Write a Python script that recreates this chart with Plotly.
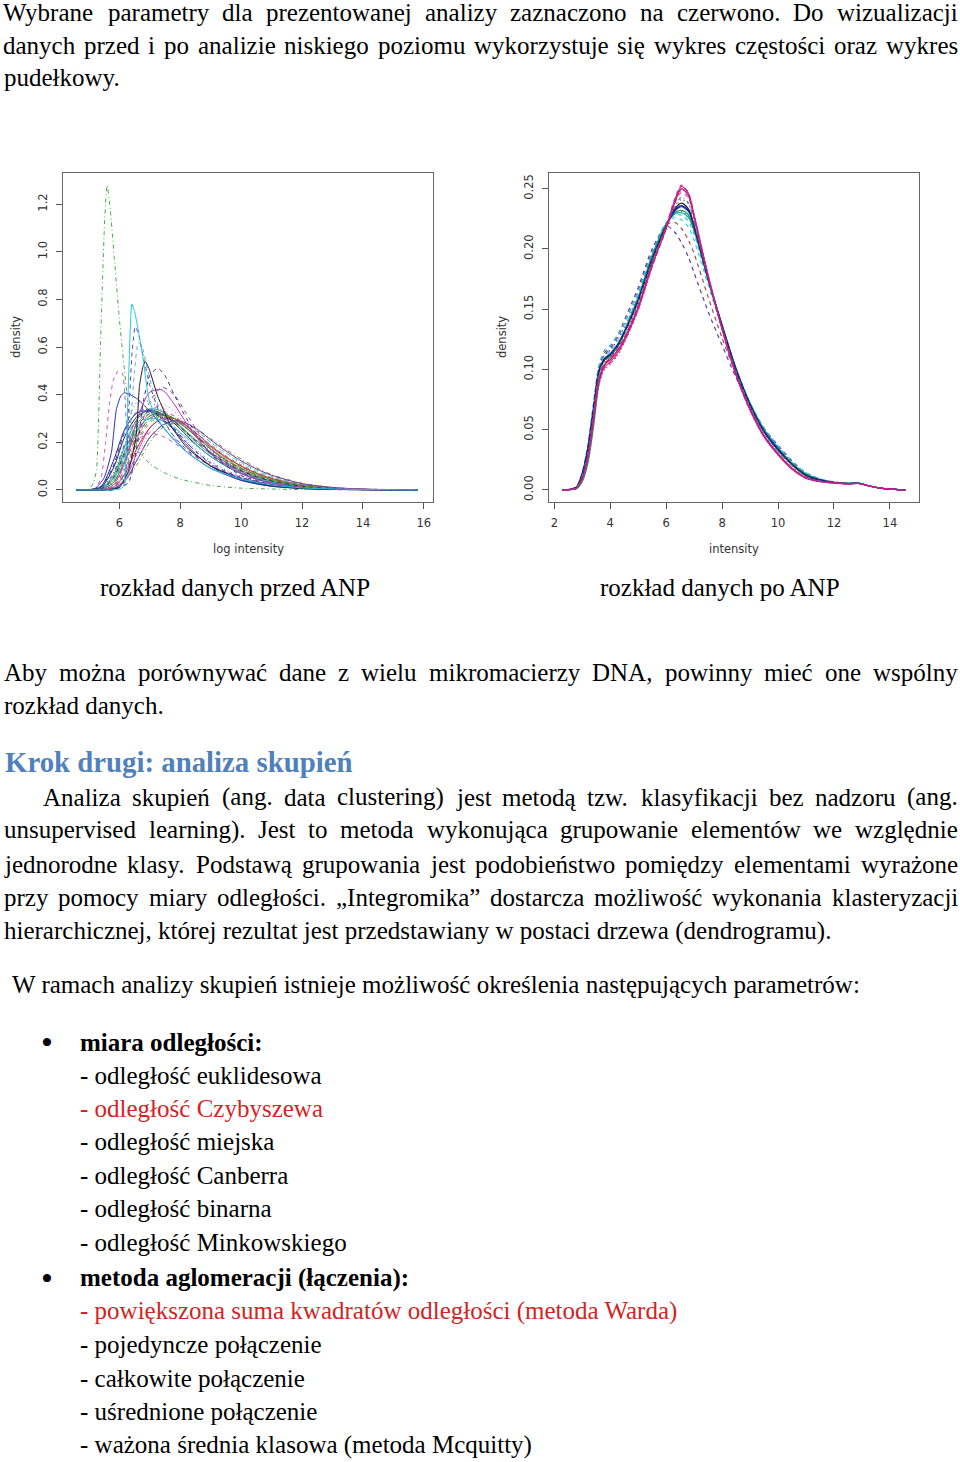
import plotly.graph_objects as go

W, H = 960, 1462

# ------------------------------------------------------------------
# DATA : density curves
# ------------------------------------------------------------------
# --- left panel ("przed ANP"), common grid for the bulk of the curves
pre_grid = [4.6, 5.0, 5.4, 5.8, 6.2, 6.6, 7.0, 7.4, 7.8, 8.2, 8.6, 9.0, 9.5, 10.0, 10.5, 11.0, 12.0, 13.0, 14.0, 15.8]
pre_black = [0, 0, 0.01, 0.09, 0.23, 0.31, 0.335, 0.32, 0.28, 0.23, 0.18, 0.14, 0.1, 0.068, 0.045, 0.03, 0.012, 0.004, 0.001, 0]
pre_red = [0, 0, 0.004, 0.04, 0.14, 0.25, 0.31, 0.33, 0.31, 0.27, 0.22, 0.17, 0.122, 0.086, 0.058, 0.038, 0.015, 0.005, 0.0015, 0]
pre_green = [0, 0, 0, 0.01, 0.06, 0.15, 0.24, 0.29, 0.3, 0.28, 0.245, 0.2, 0.152, 0.112, 0.078, 0.053, 0.022, 0.008, 0.002, 0]
pre_blue = [0, 0, 0.008, 0.07, 0.2, 0.3, 0.33, 0.31, 0.26, 0.2, 0.15, 0.108, 0.07, 0.045, 0.028, 0.017, 0.006, 0.002, 0.0005, 0]
pre_magenta = [0, 0, 0, 0.005, 0.05, 0.16, 0.26, 0.3, 0.29, 0.26, 0.22, 0.18, 0.135, 0.1, 0.07, 0.048, 0.02, 0.007, 0.002, 0]
pre_brown = [0, 0, 0.002, 0.03, 0.12, 0.23, 0.3, 0.315, 0.3, 0.26, 0.215, 0.17, 0.125, 0.09, 0.062, 0.042, 0.017, 0.006, 0.0015, 0]
pre_cyan2 = [0, 0, 0, 0.008, 0.05, 0.13, 0.22, 0.27, 0.285, 0.27, 0.24, 0.2, 0.155, 0.116, 0.082, 0.056, 0.024, 0.009, 0.0025, 0]
pre_navy = [0, 0, 0.015, 0.12, 0.26, 0.325, 0.33, 0.3, 0.25, 0.19, 0.14, 0.1, 0.065, 0.04, 0.025, 0.015, 0.005, 0.0015, 0.0004, 0]
pre_purple = [0, 0, 0, 0.02, 0.1, 0.22, 0.3, 0.32, 0.3, 0.26, 0.21, 0.165, 0.12, 0.085, 0.058, 0.039, 0.016, 0.006, 0.0015, 0]
pre_darkgreen = [0, 0, 0.003, 0.05, 0.17, 0.28, 0.33, 0.32, 0.29, 0.245, 0.2, 0.158, 0.116, 0.082, 0.056, 0.037, 0.015, 0.005, 0.0015, 0]
pre_pink = [0, 0, 0, 0.01, 0.08, 0.22, 0.33, 0.35, 0.26, 0.19, 0.14, 0.105, 0.075, 0.052, 0.035, 0.023, 0.009, 0.003, 0.001, 0]
pre_olive = [0, 0, 0, 0.004, 0.035, 0.11, 0.2, 0.26, 0.28, 0.275, 0.25, 0.215, 0.17, 0.13, 0.093, 0.064, 0.028, 0.01, 0.003, 0]
pre_teal = [0, 0, 0.005, 0.06, 0.19, 0.3, 0.34, 0.33, 0.29, 0.24, 0.19, 0.15, 0.108, 0.076, 0.052, 0.035, 0.014, 0.005, 0.0013, 0]
pre_gray = [0, 0, 0, 0.015, 0.09, 0.2, 0.28, 0.31, 0.3, 0.27, 0.23, 0.19, 0.143, 0.105, 0.074, 0.05, 0.021, 0.008, 0.002, 0]
pre_violet = [0, 0, 0.01, 0.1, 0.26, 0.37, 0.37, 0.33, 0.27, 0.21, 0.16, 0.12, 0.083, 0.057, 0.038, 0.025, 0.01, 0.003, 0.0008, 0]
pre_magenta_hi = [0, 0, 0, 0.02, 0.12, 0.3, 0.41, 0.42, 0.36, 0.28, 0.21, 0.155, 0.105, 0.07, 0.045, 0.028, 0.01, 0.003, 0.0008, 0]
pre_purple_hi = [0, 0, 0, 0.008, 0.07, 0.22, 0.37, 0.43, 0.4, 0.32, 0.24, 0.175, 0.115, 0.075, 0.048, 0.03, 0.011, 0.004, 0.001, 0]
pre_red2 = [0, 0, 0, 0.01, 0.07, 0.18, 0.26, 0.3, 0.3, 0.27, 0.23, 0.185, 0.138, 0.1, 0.07, 0.047, 0.019, 0.007, 0.002, 0]
pre_blue2 = [0, 0, 0.012, 0.1, 0.25, 0.33, 0.335, 0.305, 0.255, 0.2, 0.152, 0.113, 0.077, 0.052, 0.034, 0.022, 0.008, 0.003, 0.0007, 0]
pre_green3 = [0, 0, 0.002, 0.03, 0.13, 0.25, 0.31, 0.32, 0.3, 0.26, 0.215, 0.172, 0.127, 0.092, 0.064, 0.043, 0.018, 0.006, 0.0017, 0]
pre_magenta3 = [0, 0, 0, 0.01, 0.08, 0.22, 0.33, 0.36, 0.33, 0.27, 0.21, 0.16, 0.112, 0.077, 0.051, 0.033, 0.013, 0.004, 0.001, 0]
pre_cyan3 = [0, 0, 0.003, 0.04, 0.15, 0.26, 0.3, 0.29, 0.26, 0.22, 0.18, 0.14, 0.1, 0.07, 0.048, 0.032, 0.013, 0.005, 0.0012, 0]
pre_black3 = [0, 0, 0.004, 0.05, 0.16, 0.27, 0.32, 0.315, 0.285, 0.24, 0.195, 0.155, 0.113, 0.08, 0.055, 0.037, 0.015, 0.005, 0.0014, 0]
pre_purple3 = [0, 0, 0, 0.004, 0.04, 0.13, 0.22, 0.27, 0.29, 0.28, 0.25, 0.21, 0.163, 0.122, 0.088, 0.061, 0.026, 0.01, 0.003, 0]
pre_olive3 = [0, 0, 0, 0.015, 0.09, 0.21, 0.29, 0.31, 0.3, 0.265, 0.222, 0.18, 0.134, 0.097, 0.068, 0.046, 0.019, 0.007, 0.002, 0]

# --- left panel, curves with their own x positions
pre_greentall_x = [4.6, 5.0, 5.15, 5.25, 5.39, 5.52, 5.6, 5.7, 5.85, 6.0, 6.17, 6.35, 6.66, 7.0, 7.37, 8.0, 9.0, 10.0, 12.0, 15.8]
pre_greentall_y = [0, 0.003, 0.03, 0.085, 0.645, 1.14, 1.28, 1.18, 0.95, 0.72, 0.5, 0.3, 0.157, 0.11, 0.078, 0.045, 0.018, 0.007, 0.001, 0]
pre_cyan_x = [4.6, 5.8, 6.05, 6.15, 6.22, 6.3, 6.36, 6.41, 6.5, 6.65, 6.77, 6.99, 7.3, 7.69, 8.2, 9.0, 10.0, 11.0, 12.0, 13.5, 15.8]
pre_cyan_y = [0, 0, 0.005, 0.02, 0.15, 0.45, 0.68, 0.78, 0.75, 0.65, 0.56, 0.37, 0.29, 0.225, 0.16, 0.09, 0.045, 0.02, 0.008, 0.002, 0]
pre_purpledash_x = [4.6, 5.8, 6.15, 6.3, 6.42, 6.52, 6.62, 6.8, 7.0, 7.3, 7.7, 8.2, 9.0, 10.0, 11.0, 12.0, 13.5, 15.8]
pre_purpledash_y = [0, 0, 0.03, 0.3, 0.58, 0.685, 0.66, 0.55, 0.44, 0.33, 0.24, 0.17, 0.1, 0.05, 0.022, 0.009, 0.002, 0]
pre_lightblue_x = [4.6, 5.8, 6.2, 6.35, 6.5, 6.62, 6.75, 6.9, 7.1, 7.4, 7.8, 8.3, 9.0, 10.0, 11.0, 12.0, 13.5, 15.8]
pre_lightblue_y = [0, 0, 0.03, 0.25, 0.5, 0.62, 0.6, 0.52, 0.42, 0.31, 0.22, 0.15, 0.09, 0.045, 0.02, 0.008, 0.002, 0]
pre_magdash_x = [4.6, 5.2, 5.4, 5.55, 5.68, 5.8, 5.96, 6.1, 6.18, 6.25, 6.4, 6.7, 7.0, 7.5, 8.0, 9.0, 10.0, 11.0, 12.0, 15.8]
pre_magdash_y = [0, 0.005, 0.05, 0.2, 0.366, 0.46, 0.5, 0.49, 0.4, 0.26, 0.2, 0.22, 0.24, 0.22, 0.18, 0.1, 0.05, 0.02, 0.008, 0]
pre_bluesolid_x = [4.6, 5.2, 5.5, 5.74, 5.9, 6.05, 6.17, 6.35, 6.61, 7.04, 7.69, 8.3, 9.0, 10.0, 11.0, 12.0, 13.0, 15.8]
pre_bluesolid_y = [0, 0.005, 0.05, 0.157, 0.336, 0.395, 0.408, 0.4, 0.38, 0.325, 0.225, 0.15, 0.09, 0.04, 0.015, 0.006, 0.002, 0]
pre_blacksolid_x = [4.6, 5.6, 6.0, 6.3, 6.55, 6.66, 6.78, 6.86, 7.0, 7.26, 7.69, 8.2, 9.0, 10.0, 11.0, 12.0, 13.0, 15.8]
pre_blacksolid_y = [0, 0, 0.01, 0.08, 0.225, 0.435, 0.52, 0.538, 0.5, 0.393, 0.27, 0.18, 0.1, 0.045, 0.018, 0.007, 0.002, 0]
pre_navydash_x = [4.6, 5.8, 6.3, 6.6, 6.8, 7.0, 7.26, 7.5, 7.8, 8.2, 9.0, 10.0, 11.0, 12.0, 13.0, 15.8]
pre_navydash_y = [0, 0, 0.03, 0.2, 0.38, 0.48, 0.512, 0.48, 0.4, 0.3, 0.15, 0.06, 0.022, 0.008, 0.002, 0]

# --- right panel ("po ANP"), common grid
post_grid = [2.3, 2.6, 2.8, 3.0, 3.2, 3.4, 3.6, 3.8, 4.0, 4.3, 4.6, 5.0, 5.5, 6.0, 6.3, 6.55, 6.8, 7.0, 7.5, 8.0,
             8.5, 9.0, 9.5, 10.0, 10.5, 11.0, 11.5, 12.0, 12.5, 12.9, 13.3, 13.8, 14.55]
post_magenta = [0, 0.0003, 0.0015, 0.009, 0.026, 0.058, 0.09, 0.102, 0.106, 0.115, 0.128, 0.15, 0.186, 0.218, 0.24, 0.252, 0.246, 0.228, 0.178, 0.133, 0.095, 0.066, 0.044, 0.029, 0.017, 0.0095, 0.0068, 0.0056, 0.005, 0.0052, 0.003, 0.001, 0]
post_crimson = [0, 0.0003, 0.0016, 0.01, 0.027, 0.06, 0.092, 0.104, 0.108, 0.117, 0.13, 0.152, 0.187, 0.217, 0.238, 0.25, 0.244, 0.226, 0.177, 0.134, 0.096, 0.067, 0.045, 0.03, 0.018, 0.01, 0.007, 0.0057, 0.005, 0.0053, 0.003, 0.001, 0]
post_red = [0, 0.0004, 0.0017, 0.01, 0.028, 0.06, 0.093, 0.105, 0.109, 0.118, 0.131, 0.153, 0.188, 0.219, 0.241, 0.253, 0.246, 0.227, 0.177, 0.133, 0.095, 0.066, 0.044, 0.03, 0.018, 0.01, 0.007, 0.0057, 0.005, 0.0053, 0.003, 0.001, 0]
post_black = [0, 0.0005, 0.002, 0.012, 0.032, 0.065, 0.098, 0.108, 0.112, 0.121, 0.135, 0.157, 0.191, 0.219, 0.233, 0.238, 0.233, 0.219, 0.175, 0.135, 0.099, 0.07, 0.048, 0.033, 0.021, 0.012, 0.008, 0.006, 0.0052, 0.0054, 0.003, 0.001, 0]
post_blue = [0, 0.0006, 0.0025, 0.014, 0.035, 0.068, 0.1, 0.109, 0.113, 0.122, 0.136, 0.158, 0.192, 0.219, 0.231, 0.235, 0.231, 0.218, 0.175, 0.136, 0.1, 0.071, 0.049, 0.034, 0.021, 0.012, 0.008, 0.006, 0.0052, 0.0054, 0.003, 0.001, 0]
post_navy = [0, 0.0006, 0.0024, 0.013, 0.034, 0.067, 0.099, 0.109, 0.112, 0.121, 0.135, 0.157, 0.191, 0.219, 0.232, 0.236, 0.232, 0.219, 0.176, 0.136, 0.1, 0.07, 0.048, 0.033, 0.021, 0.012, 0.008, 0.006, 0.0052, 0.0054, 0.003, 0.001, 0]
post_green = [0, 0.0002, 0.001, 0.007, 0.022, 0.052, 0.088, 0.104, 0.11, 0.12, 0.135, 0.158, 0.193, 0.22, 0.23, 0.232, 0.228, 0.216, 0.175, 0.137, 0.1, 0.071, 0.049, 0.034, 0.022, 0.013, 0.0085, 0.0062, 0.0053, 0.0054, 0.003, 0.001, 0]
post_teal = [0, 0.0004, 0.002, 0.011, 0.03, 0.063, 0.097, 0.108, 0.112, 0.122, 0.137, 0.16, 0.195, 0.221, 0.229, 0.23, 0.226, 0.215, 0.175, 0.137, 0.101, 0.072, 0.05, 0.035, 0.022, 0.013, 0.0085, 0.0062, 0.0053, 0.0054, 0.003, 0.001, 0]
post_cyan = [0, 0.0006, 0.0028, 0.015, 0.038, 0.072, 0.104, 0.116, 0.12, 0.13, 0.143, 0.164, 0.197, 0.222, 0.228, 0.228, 0.223, 0.212, 0.172, 0.134, 0.1, 0.072, 0.051, 0.036, 0.023, 0.014, 0.009, 0.0065, 0.0055, 0.0055, 0.003, 0.001, 0]
post_purple = [0, 0.0005, 0.0025, 0.014, 0.036, 0.07, 0.102, 0.114, 0.119, 0.13, 0.146, 0.168, 0.2, 0.219, 0.214, 0.205, 0.193, 0.18, 0.148, 0.12, 0.093, 0.07, 0.051, 0.037, 0.024, 0.014, 0.009, 0.0065, 0.0055, 0.0055, 0.003, 0.001, 0]
post_brown = [0, 0.0005, 0.0024, 0.013, 0.034, 0.068, 0.1, 0.112, 0.117, 0.128, 0.143, 0.165, 0.198, 0.22, 0.222, 0.217, 0.207, 0.196, 0.16, 0.126, 0.096, 0.071, 0.051, 0.036, 0.023, 0.014, 0.009, 0.0064, 0.0054, 0.0055, 0.003, 0.001, 0]
post_violet = [0, 0.0004, 0.0018, 0.011, 0.029, 0.061, 0.094, 0.106, 0.11, 0.119, 0.132, 0.154, 0.189, 0.218, 0.234, 0.241, 0.237, 0.221, 0.176, 0.135, 0.098, 0.069, 0.047, 0.032, 0.02, 0.011, 0.0075, 0.006, 0.0052, 0.0054, 0.003, 0.001, 0]
post_pink = [0, 0.0003, 0.0015, 0.009, 0.025, 0.057, 0.089, 0.101, 0.105, 0.114, 0.128, 0.15, 0.185, 0.216, 0.237, 0.247, 0.242, 0.225, 0.177, 0.134, 0.096, 0.067, 0.045, 0.03, 0.018, 0.01, 0.007, 0.0057, 0.005, 0.0053, 0.003, 0.001, 0]
post_green2 = [0, 0.0004, 0.002, 0.012, 0.031, 0.064, 0.097, 0.107, 0.111, 0.12, 0.134, 0.156, 0.19, 0.218, 0.235, 0.243, 0.238, 0.222, 0.176, 0.135, 0.098, 0.069, 0.047, 0.032, 0.02, 0.011, 0.0075, 0.006, 0.0052, 0.0054, 0.003, 0.001, 0]
post_blue2 = [0, 0.0006, 0.0026, 0.014, 0.036, 0.07, 0.102, 0.112, 0.116, 0.126, 0.14, 0.161, 0.194, 0.22, 0.229, 0.231, 0.227, 0.215, 0.174, 0.135, 0.1, 0.072, 0.05, 0.035, 0.022, 0.013, 0.0085, 0.0062, 0.0053, 0.0054, 0.003, 0.001, 0]
post_magenta2 = [0, 0.0003, 0.0014, 0.008, 0.024, 0.055, 0.087, 0.1, 0.104, 0.113, 0.127, 0.149, 0.185, 0.217, 0.239, 0.249, 0.245, 0.228, 0.179, 0.134, 0.095, 0.066, 0.044, 0.029, 0.017, 0.0095, 0.0068, 0.0056, 0.005, 0.0052, 0.003, 0.001, 0]
post_cyan2 = [0, 0.0005, 0.0024, 0.013, 0.034, 0.068, 0.1, 0.111, 0.115, 0.125, 0.139, 0.161, 0.195, 0.221, 0.226, 0.224, 0.218, 0.207, 0.17, 0.134, 0.1, 0.072, 0.051, 0.036, 0.023, 0.014, 0.009, 0.0065, 0.0055, 0.0055, 0.003, 0.001, 0]

# --- axis ticks
pre_xticks = [6, 8, 10, 12, 14, 16]
pre_yticks = [0.0, 0.2, 0.4, 0.6, 0.8, 1.0, 1.2]
post_xticks = [2, 4, 6, 8, 10, 12, 14]
post_yticks = [0.00, 0.05, 0.10, 0.15, 0.20, 0.25]

# ------------------------------------------------------------------
# STYLES
# ------------------------------------------------------------------
SOLID, DASH, DOT, DOTDASH, LONGDASH = "solid", "4px,4px", "1px,3px", "1px,3px,4px,3px", "7px,3px"

pre_bulk_styles = [
    (pre_black, "#222222", SOLID), (pre_red, "#E0305A", DASH), (pre_green, "#3CB44B", DOT),
    (pre_blue, "#3344CC", DOTDASH), (pre_magenta, "#D040C8", SOLID), (pre_brown, "#8B5A2B", LONGDASH),
    (pre_cyan2, "#40C8D8", DASH), (pre_navy, "#202080", SOLID), (pre_purple, "#8040B0", DOT),
    (pre_darkgreen, "#2E8B57", SOLID), (pre_pink, "#EE77BB", DASH), (pre_olive, "#7A8A20", DOTDASH),
    (pre_teal, "#209090", SOLID), (pre_gray, "#888888", DASH), (pre_violet, "#5050C0", DOT),
    (pre_red2, "#D02040", SOLID), (pre_blue2, "#2040D0", DASH), (pre_green3, "#30A030", SOLID),
    (pre_magenta3, "#E050E0", DOT), (pre_cyan3, "#30B8D0", SOLID), (pre_black3, "#333333", DASH),
    (pre_purple3, "#7030A0", SOLID), (pre_olive3, "#909020", DASH),
    (pre_magenta_hi, "#C030C0", SOLID), (pre_purple_hi, "#9040A0", DASH),
]
pre_special_styles = [
    (pre_greentall_x, pre_greentall_y, "#40B040", DOTDASH),
    (pre_magdash_x, pre_magdash_y, "#D050C8", DASH),
    (pre_bluesolid_x, pre_bluesolid_y, "#3030B0", SOLID),
    (pre_lightblue_x, pre_lightblue_y, "#60B0E0", DASH),
    (pre_purpledash_x, pre_purpledash_y, "#6A3A9A", DASH),
    (pre_blacksolid_x, pre_blacksolid_y, "#202020", SOLID),
    (pre_navydash_x, pre_navydash_y, "#353580", DASH),
    (pre_cyan_x, pre_cyan_y, "#20C8E0", SOLID),
]
post_styles = [
    (post_brown, "#9A5040", DASH), (post_purple, "#6040A0", DASH), (post_cyan2, "#40D0E8", DASH),
    (post_cyan, "#30C8E0", DASH), (post_blue2, "#3050E0", DOT),
    (post_teal, "#10A090", SOLID), (post_green, "#20A040", SOLID), (post_blue, "#2030D0", SOLID),
    (post_black, "#202020", SOLID), (post_navy, "#1A1A8C", SOLID), (post_violet, "#7030C0", DOT),
    (post_green2, "#30A060", DOTDASH), (post_pink, "#E060B0", DASH), (post_crimson, "#C0105A", SOLID),
    (post_magenta2, "#B01090", DOT), (post_red, "#E02050", DASH), (post_magenta, "#C020A0", SOLID),
]

# ------------------------------------------------------------------
# TEXT
# ------------------------------------------------------------------
BODY = 25
SERIF = "Liberation Serif"
RED = "#D42323"
BLUE = "#4F81BD"

justified_lines = [
    (12, 3, 958, "Wybrane parametry dla prezentowanej analizy zaznaczono na czerwono. Do wizualizacji"),
    (45, 3, 958, "danych przed i po analizie niskiego poziomu wykorzystuje się wykres częstości oraz wykres"),
    (672, 4, 958, "Aby można porównywać dane z wielu mikromacierzy DNA, powinny mieć one wspólny"),
    (797, 43, 958, "Analiza skupień (ang. data clustering) jest metodą tzw. klasyfikacji bez nadzoru (ang."),
    (830, 4, 958, "unsupervised learning). Jest to metoda wykonująca grupowanie elementów we względnie"),
    (864, 4, 958, "jednorodne klasy. Podstawą grupowania jest podobieństwo pomiędzy elementami wyrażone"),
    (897, 4, 958, "przy pomocy miary odległości. „Integromika” dostarcza możliwość wykonania klasteryzacji"),
]
plain_lines = [
    (78, 4, "pudełkowy.", "#000000", False),
    (705, 4, "rozkład danych.", "#000000", False),
    (931, 4, "hierarchicznej, której rezultat jest przedstawiany w postaci drzewa (dendrogramu).", "#000000", False),
    (985, 12, "W ramach analizy skupień istnieje możliwość określenia następujących parametrów:", "#000000", False),
    (1042, 80, "miara odległości:", "#000000", True),
    (1075, 80, "- odległość euklidesowa", "#000000", False),
    (1108, 80, "- odległość Czybyszewa", RED, False),
    (1141, 80, "- odległość miejska", "#000000", False),
    (1175, 80, "- odległość Canberra", "#000000", False),
    (1208, 80, "- odległość binarna", "#000000", False),
    (1242, 80, "- odległość Minkowskiego", "#000000", False),
    (1278, 80, "metoda aglomeracji (łączenia):", "#000000", True),
    (1311, 80, "- powiększona suma kwadratów odległości (metoda Warda)", RED, False),
    (1344, 80, "- pojedyncze połączenie", "#000000", False),
    (1378, 80, "- całkowite połączenie", "#000000", False),
    (1411, 80, "- uśrednione połączenie", "#000000", False),
    (1445, 80, "- ważona średnia klasowa (metoda Mcquitty)", "#000000", False),
]
bullets = [(1042, 47), (1278, 47)]
captions = [(587, 235, "rozkład danych przed ANP"), (587, 720, "rozkład danych po ANP")]
heading = (762, 5, "Krok drugi: analiza skupień")

# Times / Liberation Serif advance widths (per 1000 em)
TW = {' ': 250, 'a': 444, 'b': 500, 'c': 444, 'd': 500, 'e': 444, 'f': 333, 'g': 500, 'h': 500, 'i': 278,
      'j': 278, 'k': 500, 'l': 278, 'm': 778, 'n': 500, 'o': 500, 'p': 500, 'q': 500, 'r': 333, 's': 389,
      't': 278, 'u': 500, 'v': 500, 'w': 722, 'x': 500, 'y': 500, 'z': 444,
      'A': 722, 'B': 667, 'C': 667, 'D': 722, 'E': 611, 'F': 556, 'G': 722, 'H': 722, 'I': 333, 'J': 389,
      'K': 722, 'L': 611, 'M': 889, 'N': 722, 'O': 722, 'P': 556, 'Q': 722, 'R': 667, 'S': 556, 'T': 611,
      'U': 722, 'V': 722, 'W': 944, 'X': 722, 'Y': 722, 'Z': 611,
      '.': 250, ',': 250, ':': 278, ';': 278, '(': 333, ')': 333, '-': 333, '„': 444, '”': 444,
      'ą': 444, 'ć': 444, 'ę': 444, 'ł': 278, 'ń': 500, 'ó': 500, 'ś': 389, 'ź': 444, 'ż': 444}


def word_w(word, size):
    return sum(TW.get(ch, 500) for ch in word) * size / 1000.0


def px(x):
    return x / W


def py(y):
    return 1 - y / H


# ------------------------------------------------------------------
# FIGURE
# ------------------------------------------------------------------
fig = go.Figure()

for ys, col, dash in pre_bulk_styles:
    fig.add_trace(go.Scatter(x=pre_grid, y=ys, mode="lines", xaxis="x", yaxis="y",
                             line=dict(color=col, width=1, dash=dash, shape="spline", smoothing=0.8),
                             hoverinfo="skip", showlegend=False))
for xs, ys, col, dash in pre_special_styles:
    fig.add_trace(go.Scatter(x=xs, y=ys, mode="lines", xaxis="x", yaxis="y",
                             line=dict(color=col, width=1, dash=dash, shape="spline", smoothing=0.5),
                             hoverinfo="skip", showlegend=False))
for ys, col, dash in post_styles:
    fig.add_trace(go.Scatter(x=post_grid, y=ys, mode="lines", xaxis="x2", yaxis="y2",
                             line=dict(color=col, width=1.2, dash=dash, shape="spline", smoothing=0.8),
                             hoverinfo="skip", showlegend=False))

PLOT_TOP, PLOT_BOT = 173, 502
ydom = [py(PLOT_BOT), py(PLOT_TOP)]
tickfont = dict(family="DejaVu Sans", size=11.5, color="#333333")
common_ax = dict(showline=True, mirror=True, linecolor="#666666", linewidth=1, ticks="outside",
                 ticklen=6, tickwidth=1, tickcolor="#555555", showgrid=False, zeroline=False,
                 tickfont=tickfont, automargin=False, ticklabelstandoff=4, fixedrange=True)

fig.update_layout(
    width=W, height=H, autosize=False,
    margin=dict(l=0, r=0, t=0, b=0, pad=0),
    paper_bgcolor="white", plot_bgcolor="white",
    xaxis=dict(domain=[px(63), px(433)], range=[4.15, 16.3], tickvals=pre_xticks,
               ticktext=[str(v) for v in pre_xticks], anchor="y", **common_ax),
    yaxis=dict(domain=ydom, range=[-0.0512, 1.3312], tickvals=pre_yticks,
               ticktext=[f"{v:.1f}" for v in pre_yticks], tickangle=-90, anchor="x", **common_ax),
    xaxis2=dict(domain=[px(549), px(919)], range=[1.81, 15.04], tickvals=post_xticks,
                ticktext=[str(v) for v in post_xticks], anchor="y2", **common_ax),
    yaxis2=dict(domain=ydom, range=[-0.0101, 0.263], tickvals=post_yticks,
                ticktext=[f"{v:.2f}" for v in post_yticks], tickangle=-90, anchor="x2", **common_ax),
)

ann = []


def add_text(x, y, text, size=BODY, color="#000000", bold=False, xanchor="left", family=SERIF, angle=0):
    ann.append(dict(x=px(x), y=py(y), xref="paper", yref="paper", text=text, showarrow=False,
                    xanchor=xanchor, yanchor="middle", borderpad=0, borderwidth=0, textangle=angle,
                    font=dict(family=family, size=size, color=color, weight="bold" if bold else "normal")))


# axis titles of the R plots
title_font = "DejaVu Sans"
add_text(248, 549, "log intensity", size=11.5, color="#333333", xanchor="center", family=title_font)
add_text(734, 549, "intensity", size=11.5, color="#333333", xanchor="center", family=title_font)
add_text(16, 337, "density", size=11.5, color="#333333", xanchor="center", family=title_font, angle=-90)
add_text(502, 337, "density", size=11.5, color="#333333", xanchor="center", family=title_font, angle=-90)

# justified paragraph lines
for y, x0, x1, line in justified_lines:
    words = line.split(" ")
    widths = [word_w(w, BODY) for w in words]
    gap = (x1 - x0 - sum(widths)) / (len(words) - 1)
    xpos = x0
    for i, (w, ww) in enumerate(zip(words, widths)):
        if i == len(words) - 1:
            add_text(x1, y, w, xanchor="right")
        else:
            add_text(xpos, y, w)
        xpos += ww + gap

for y, x, line, col, bold in plain_lines:
    add_text(x, y, line, color=col, bold=bold)

for y, x in bullets:
    add_text(x, y, "•", size=34, xanchor="center")

for y, x, line in captions:
    add_text(x, y, line, xanchor="center")

add_text(heading[1], heading[0], heading[2], size=28.8, color=BLUE, bold=True)

fig.update_layout(annotations=ann)
fig.write_html("out.html", config={"displayModeBar": False, "staticPlot": True},
               post_script="document.body.style.margin='0px';document.body.style.overflow='hidden';")
